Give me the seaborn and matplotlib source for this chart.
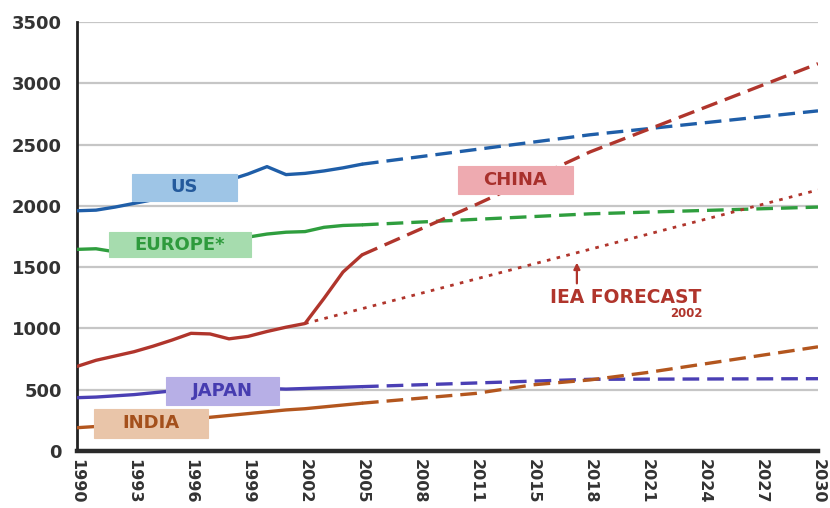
import numpy as np
import matplotlib
matplotlib.use("Agg")
import matplotlib.pyplot as plt
import seaborn as sns
from matplotlib.patches import Rectangle

# ---------------- data ----------------
tick_years = [1990, 1993, 1996, 1999, 2002, 2005, 2008, 2011, 2015, 2018, 2021, 2024, 2027, 2030]
tick_labels = [str(y) for y in tick_years]
y_ticks = [0, 500, 1000, 1500, 2000, 2500, 3000, 3500]

hist_years = list(range(1990, 2006))
us_hist = [1960, 1965, 1990, 2020, 2050, 2090, 2130, 2170, 2210, 2260, 2320, 2255, 2265, 2285, 2310, 2340]
europe_hist = [1645, 1650, 1625, 1640, 1660, 1680, 1700, 1715, 1730, 1745, 1770, 1785, 1790, 1825, 1840, 1845]
china_hist = [690, 740, 775, 810, 855, 905, 960, 955, 915, 935, 975, 1010, 1040, 1245, 1460, 1600]
japan_hist = [435, 440, 450, 460, 475, 490, 500, 505, 505, 505, 510, 505, 510, 515, 520, 525]
india_hist = [190, 200, 210, 220, 235, 245, 260, 275, 290, 305, 320, 335, 345, 360, 375, 390]

us_fc_years = [2005, 2018, 2030]
us_fc = [2340, 2580, 2775]
europe_fc_years = [2005, 2018, 2030]
europe_fc = [1845, 1935, 1990]
china_fc_years = [2005, 2011, 2018, 2030]
china_fc = [1600, 2010, 2440, 3160]
iea_years = [2002, 2030]
iea_fc = [1040, 2130]
japan_fc_years = [2005, 2018, 2030]
japan_fc = [525, 585, 590]
india_fc_years = [2005, 2011, 2015, 2018, 2021, 2024, 2027, 2030]
india_fc = [390, 470, 540, 580, 640, 710, 780, 850]

series_names = ["US", "EUROPE*", "CHINA", "JAPAN", "INDIA"]

# ---------------- style ----------------
line_colors = {"US": "#1f5ea8", "EUROPE*": "#2f9e3e", "CHINA": "#b0352c",
               "JAPAN": "#4a3fb4", "INDIA": "#b3561e"}
box_colors = {"US": "#9ec5e6", "EUROPE*": "#a6dcae", "CHINA": "#eeaab0",
              "JAPAN": "#b7afe6", "INDIA": "#e9c5a9"}
text_colors = {"US": "#245a9c", "EUROPE*": "#2e9a3c", "CHINA": "#a8302c",
               "JAPAN": "#463cb0", "INDIA": "#a4501c"}
# label boxes: (x0 in tick-index units, y0, width, height)
boxes = {"US": (0.97, 2041, 1.83, 221), "EUROPE*": (0.56, 1582, 2.50, 205),
         "CHINA": (6.68, 2098, 2.02, 230), "JAPAN": (1.56, 377, 1.99, 230),
         "INDIA": (0.30, 107, 1.99, 237)}


def pos(years):
    return np.interp(years, tick_years, np.arange(len(tick_years)))


sns.set_theme(style="white")
plt.rcParams['font.family'] = ['DejaVu Sans']

fig = plt.figure(figsize=(8.3, 5.08), dpi=100)
ax = fig.add_axes([77 / 830, 1 - 451 / 508, 741 / 830, 429 / 508])

dash = (0, (5, 2.4))
lw = 2.4

hist = {"US": us_hist, "EUROPE*": europe_hist, "CHINA": china_hist,
        "JAPAN": japan_hist, "INDIA": india_hist}
fc = {"US": (us_fc_years, us_fc), "EUROPE*": (europe_fc_years, europe_fc),
      "CHINA": (china_fc_years, china_fc), "JAPAN": (japan_fc_years, japan_fc),
      "INDIA": (india_fc_years, india_fc)}

for name in series_names:
    c = line_colors[name]
    sns.lineplot(x=pos(hist_years), y=hist[name], color=c, linewidth=lw,
                 ax=ax, zorder=3)
    fy, fv = fc[name]
    sns.lineplot(x=pos(fy), y=fv, color=c, linewidth=lw, linestyle=dash,
                 ax=ax, zorder=3)

sns.lineplot(x=pos(iea_years), y=iea_fc, color=line_colors["CHINA"],
             linewidth=2.0, linestyle=(0, (1.3, 2.3)), ax=ax, zorder=3)

for name in series_names:
    x0, y0, w, h = boxes[name]
    ax.add_patch(Rectangle((x0, y0), w, h, facecolor=box_colors[name],
                           edgecolor=box_colors[name], lw=0.8, zorder=4))
    ax.text(x0 + w / 2, y0 + h / 2, name, ha="center", va="center",
            fontsize=13, fontweight="bold", color=text_colors[name], zorder=5)

ax.text(9.63, 1254, "IEA FORECAST", ha="center", va="center", fontsize=13.5,
        fontweight="bold", color="#b0352c", zorder=5)
ax.text(10.69, 1125, "2002", ha="center", va="center", fontsize=8.5,
        fontweight="bold", color="#b0352c", zorder=5)
ax.annotate("", xy=(8.77, 1560), xytext=(8.77, 1345),
            arrowprops=dict(arrowstyle="-|>", color="#b0352c", lw=1.6,
                            mutation_scale=9), zorder=5)

ax.set_xlim(0, len(tick_years) - 1)
ax.set_ylim(0, 3500)
ax.set_xticks(np.arange(len(tick_years)))
ax.set_xticklabels(tick_labels, rotation=-90, fontsize=11.5, fontweight="bold",
                   color="#333333")
ax.set_yticks(y_ticks)
ax.set_yticklabels([str(v) for v in y_ticks], fontsize=13, fontweight="bold",
                   color="#333333")
ax.tick_params(axis="x", length=0, pad=6)
ax.tick_params(axis="y", length=0, pad=11)
ax.set_xlabel("")
ax.set_ylabel("")

ax.grid(axis="y", color="#c6c6c6", linewidth=1.6)
ax.grid(axis="x", visible=False)
ax.set_axisbelow(True)
for s in ["top", "right"]:
    ax.spines[s].set_visible(False)
ax.spines["left"].set_color("#222222")
ax.spines["left"].set_linewidth(2.0)
ax.spines["bottom"].set_color("#2a2a2a")
ax.spines["bottom"].set_linewidth(3.2)
ax.spines["bottom"].set_zorder(6)

fig.savefig("out.png", dpi=100)
